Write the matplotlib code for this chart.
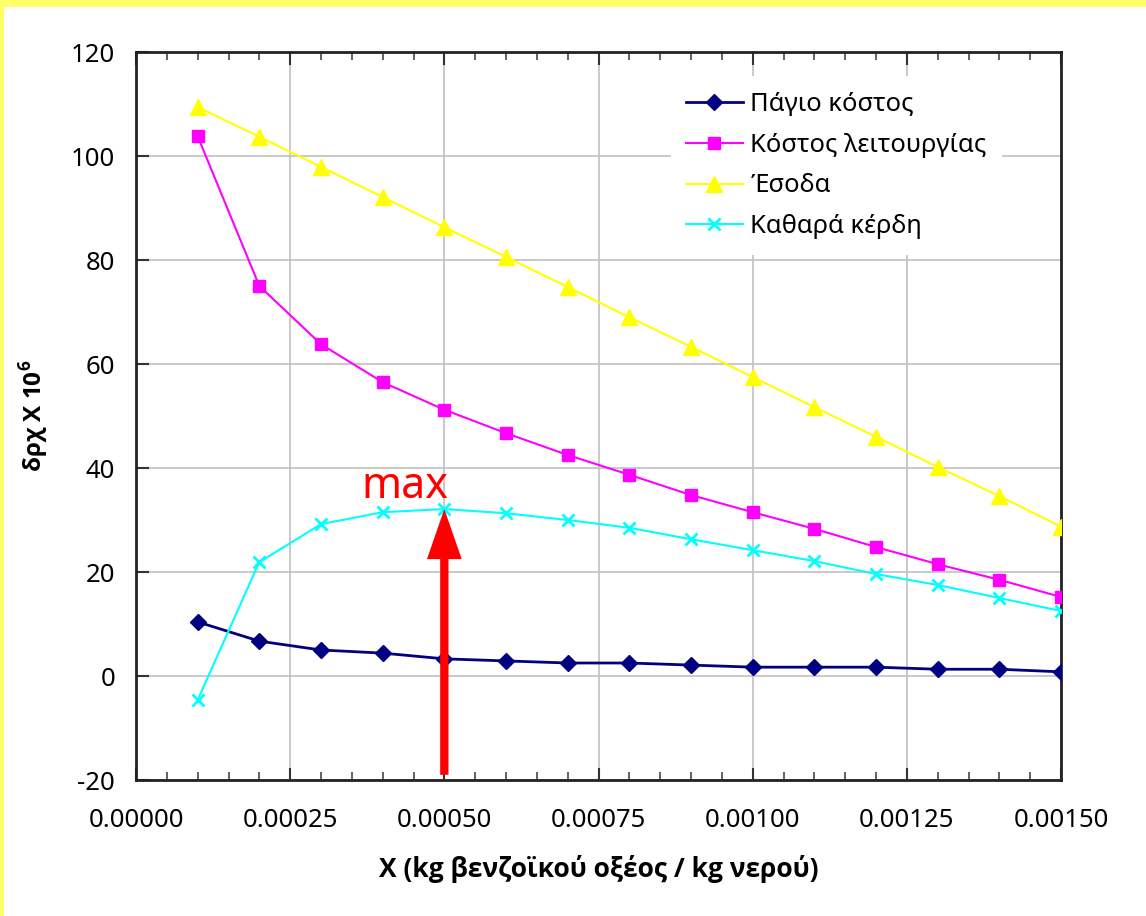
import matplotlib
matplotlib.use("Agg")
import matplotlib.pyplot as plt
from matplotlib.patches import Rectangle
from matplotlib.ticker import MultipleLocator, FormatStrFormatter

x = [0.0001, 0.0002, 0.0003, 0.0004, 0.0005, 0.0006, 0.0007, 0.0008,
     0.0009, 0.0010, 0.0011, 0.0012, 0.0013, 0.0014, 0.0015]
fixed_cost = [10.4, 6.7, 5.0, 4.4, 3.3, 2.9, 2.5, 2.5, 2.1, 1.7, 1.7, 1.7, 1.3, 1.3, 0.8]
operating_cost = [103.8, 75.0, 63.8, 56.5, 51.2, 46.7, 42.5, 38.7, 34.8, 31.5,
                  28.3, 24.8, 21.5, 18.5, 15.2]
revenue = [109.4, 103.7, 97.9, 92.1, 86.3, 80.6, 74.8, 69.0, 63.3, 57.5,
           51.7, 46.0, 40.2, 34.6, 28.7]
net_profit = [-4.6, 21.9, 29.2, 31.5, 32.1, 31.3, 30.0, 28.5, 26.3, 24.2,
              22.1, 19.6, 17.5, 15.0, 12.5]
labels = ["Πάγιο κόστος", "Κόστος λειτουργίας", "Έσοδα", "Καθαρά κέρδη"]
max_x = 0.0005
max_y = 32.1

plt.rcParams['font.family'] = ['Noto Sans', 'DejaVu Sans']
plt.rcParams['axes.unicode_minus'] = False
plt.rcParams['mathtext.fontset'] = 'custom'
plt.rcParams['mathtext.bf'] = 'Open Sans:bold'
plt.rcParams['mathtext.rm'] = 'Open Sans'

fig = plt.figure(figsize=(11.46, 9.16), dpi=100)
fig.patch.set_facecolor('#FFFF66')
fig.patches.append(Rectangle((4 / 1146, 0), 1 - 4 / 1146, 1 - 7 / 916,
                             transform=fig.transFigure, facecolor='white',
                             edgecolor='none', zorder=-1))

ax = fig.add_axes([136 / 1146, 1 - 780 / 916, (1061 - 136) / 1146, (780 - 52) / 916])

ax.plot(x, fixed_cost, color='#000080', marker='D', markersize=8, lw=2, label=labels[0], zorder=4)
ax.plot(x, operating_cost, color='#FF00FF', marker='s', markersize=9, lw=1.5, label=labels[1], zorder=4)
ax.plot(x, revenue, color='#FFFF00', marker='^', markersize=11, lw=1.5, label=labels[2], zorder=4)
ax.plot(x, net_profit, color='#00FFFF', marker='x', markersize=9, mew=2, lw=1.5, label=labels[3], zorder=4)

ax.set_xlim(0, 0.0015)
ax.set_ylim(-20, 120)
ax.xaxis.set_major_locator(MultipleLocator(0.00025))
ax.xaxis.set_minor_locator(MultipleLocator(0.00005))
ax.xaxis.set_major_formatter(FormatStrFormatter('%.5f'))
ax.yaxis.set_major_locator(MultipleLocator(20))
ax.grid(True, which='major', color='#C0C0C0', lw=1.2)
ax.set_axisbelow(True)
ax.tick_params(axis='both', which='major', direction='in', length=9, width=1.5,
               labelsize=18.5, colors='#333333', labelcolor='black')
ax.tick_params(axis='x', which='major', pad=20)
ax.tick_params(axis='y', which='major', pad=15)
ax.tick_params(axis='x', which='minor', direction='in', length=6, width=1.3, colors='#555555')
ax.tick_params(axis='x', which='both', top=True)
ax.tick_params(axis='y', which='both', right=False)
for s in ax.spines.values():
    s.set_linewidth(2)
    s.set_color('#222222')

ax.set_xlabel("X (kg βενζοϊκού οξέος / kg νερού)", fontsize=19, fontweight='bold',
              family='Open Sans', labelpad=16)
ax.set_ylabel(r"δρχ X 10$^{\mathbf{6}}$", fontsize=17.5, fontweight='bold',
              family='Open Sans', labelpad=14)

ax.annotate('', xy=(max_x, max_y), xytext=(max_x, -19),
            arrowprops=dict(facecolor='#FF0000', edgecolor='none',
                            width=6, headwidth=25, headlength=36), zorder=5)
ax.text(0.000436, 34.2, 'max', color='#FF0000', fontsize=31,
        ha='center', va='baseline', zorder=6)

leg = ax.legend(loc='upper right', bbox_to_anchor=(0.95, 0.984), fontsize=18.4,
                frameon=True, fancybox=False, framealpha=1, edgecolor='none',
                handlelength=2.2, handletextpad=0.3, labelspacing=0.62, borderpad=0.6)

fig.savefig('out.png', dpi=100, facecolor=fig.get_facecolor())
